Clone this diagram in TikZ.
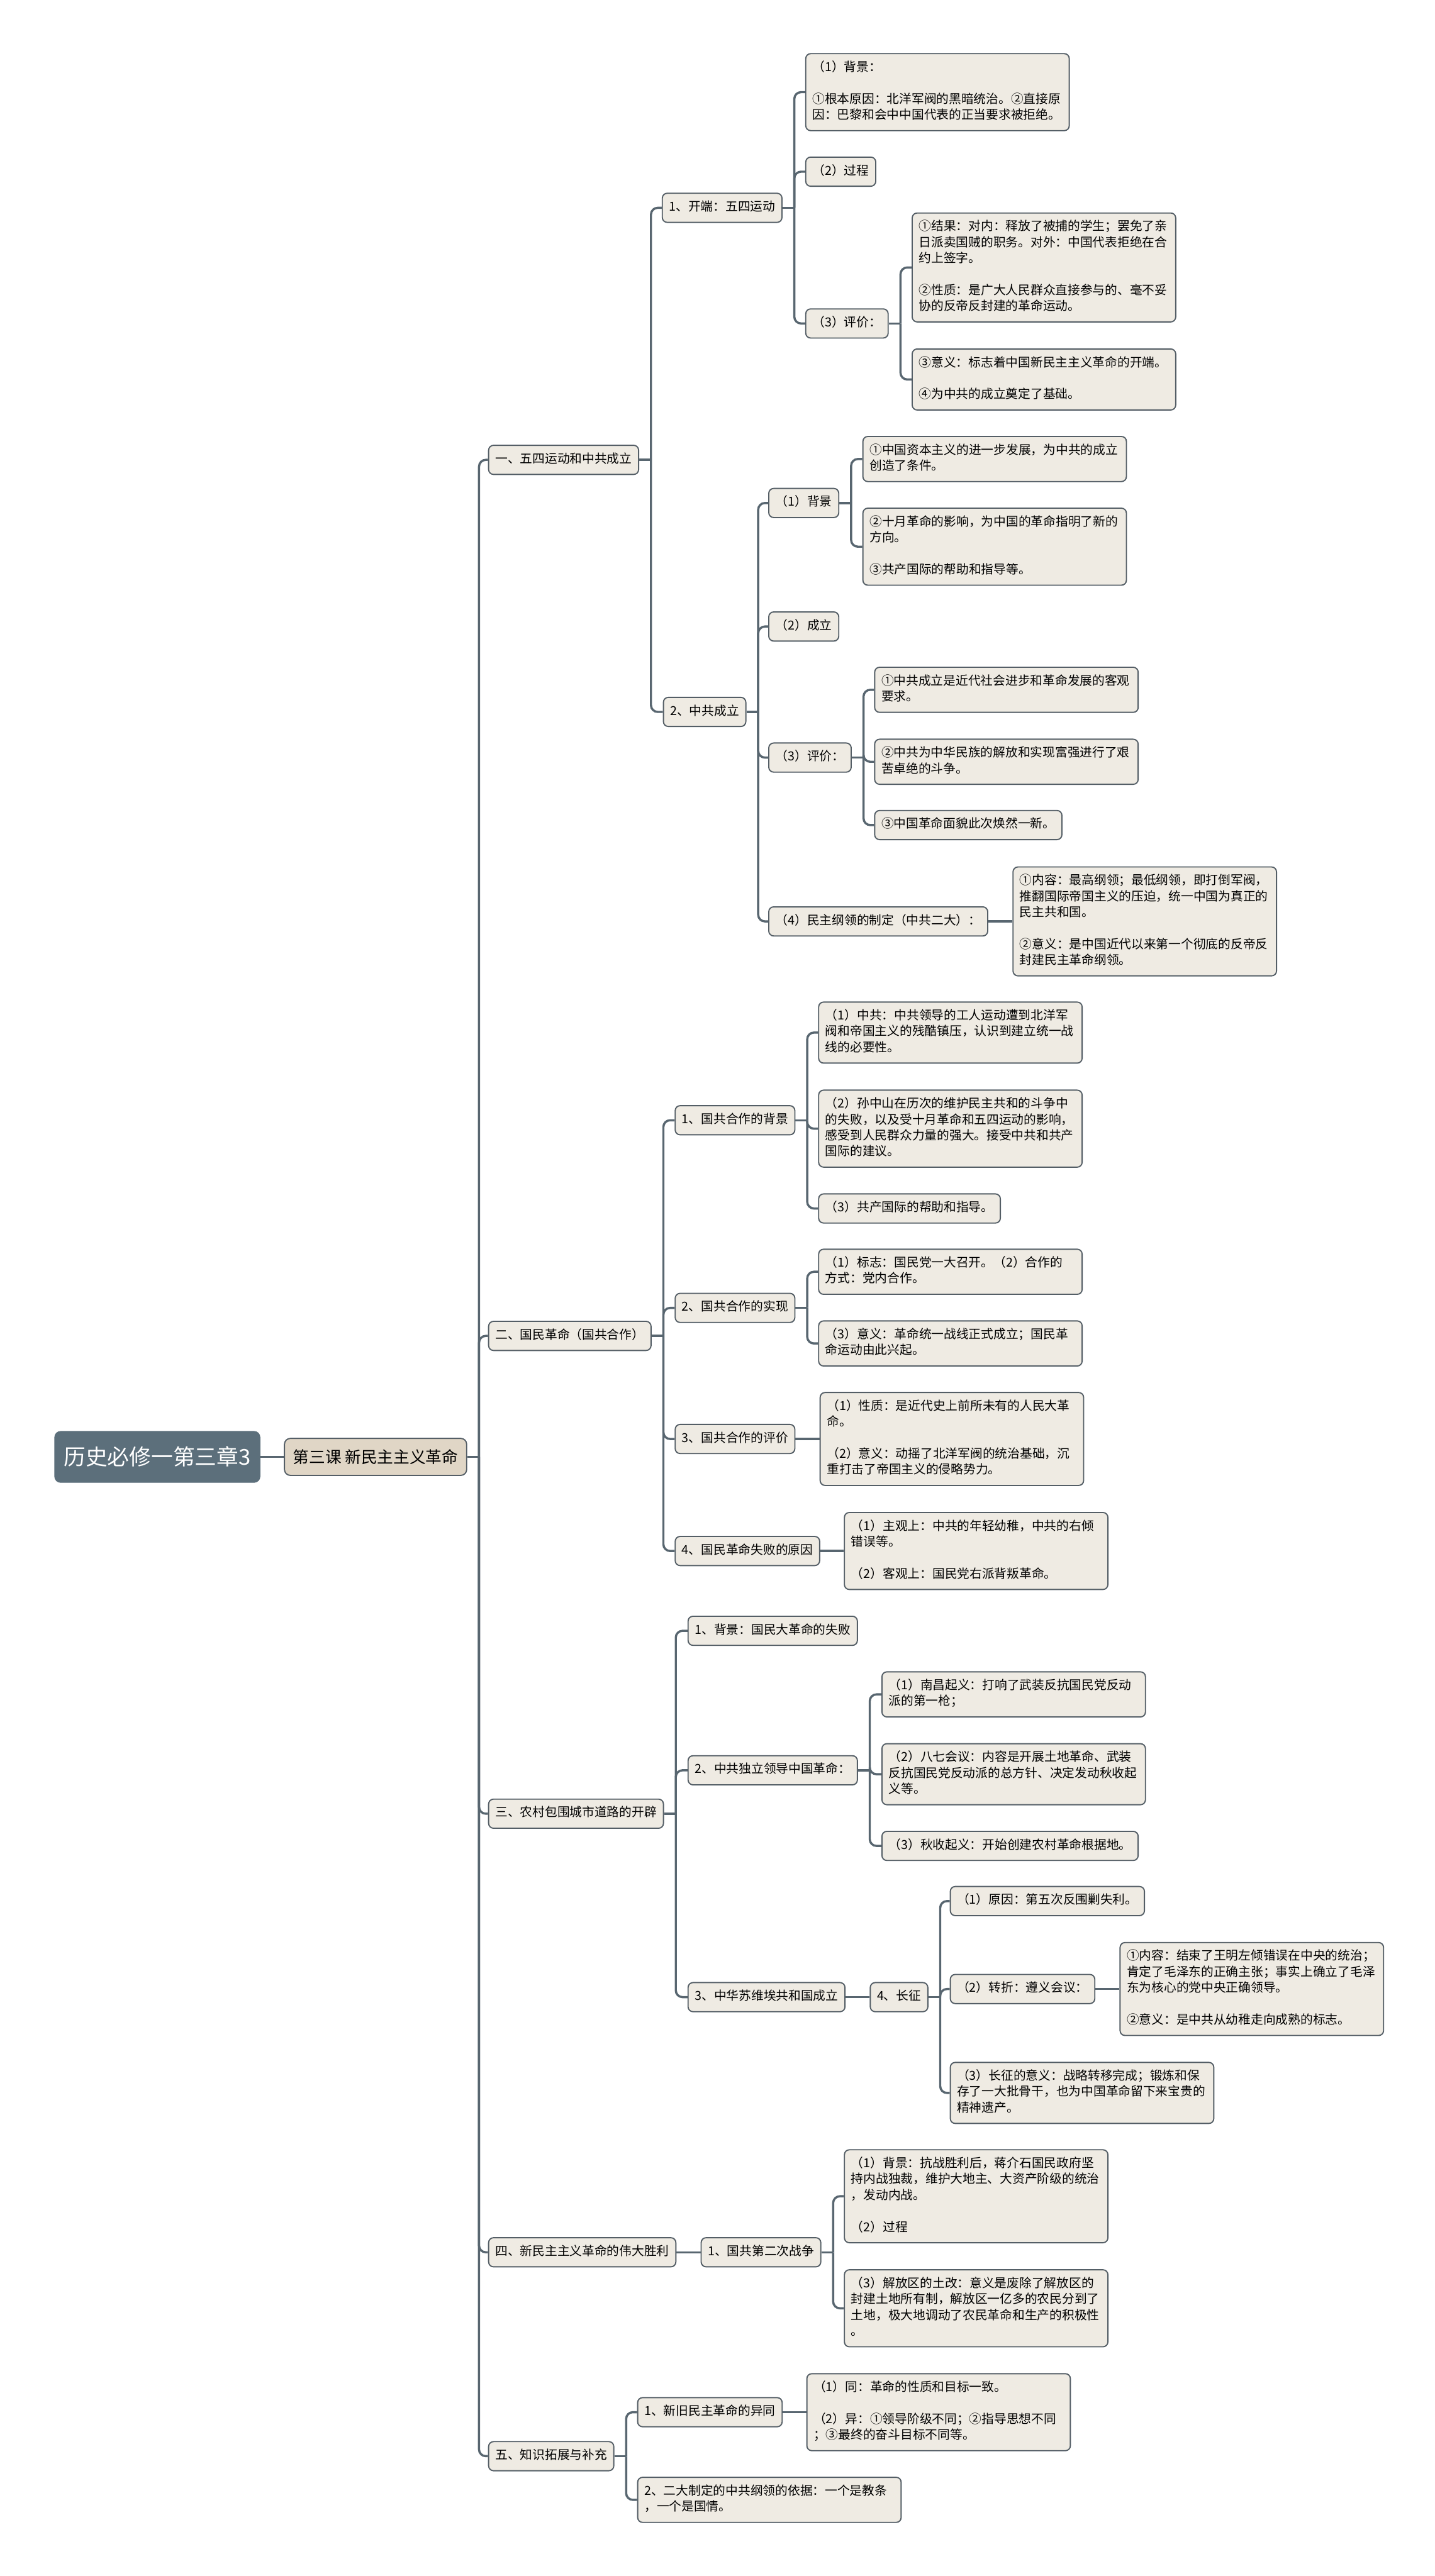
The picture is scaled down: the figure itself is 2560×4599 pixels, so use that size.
\documentclass[tikz,border=0pt]{standalone}
\usepackage{fontspec}
\setmainfont{Noto Sans CJK SC}
\usetikzlibrary{positioning}
\definecolor{LinkGray}{RGB}{88,102,112}
\definecolor{BoxLine}{RGB}{84,94,102}
\definecolor{BoxFill}{RGB}{239,235,227}
\definecolor{TopicFill}{RGB}{224,214,198}
\definecolor{RootFill}{RGB}{92,111,123}
\tikzset{
  leaf/.style={draw=BoxLine,fill=BoxFill,rounded corners=2.5pt,line width=0.6pt,
               font=\fontsize{6.3}{8.1}\selectfont,inner xsep=0.12cm,inner ysep=0.1175cm,
               execute at begin node=\strut,execute at end node=\strut,anchor=west},
  wide/.style={leaf,text width=4.46cm,align=left},
  topic/.style={draw=BoxLine,fill=TopicFill,rounded corners=3pt,line width=0.6pt,
                font=\fontsize{8.2}{10}\selectfont,minimum width=3.25cm,minimum height=0.66cm},
  rootnode/.style={draw=RootFill,fill=RootFill,rounded corners=3pt,text=white,
                   font=\fontsize{11.1}{13}\selectfont,minimum width=3.66cm,minimum height=0.91cm},
  link/.style={draw=LinkGray,line width=1.1pt,rounded corners=3.4pt},
}
\begin{document}
\begin{tikzpicture}[x=0.01cm,y=-0.01cm]
\path[use as bounding box,fill=white] (0,0) rectangle (2560,4599);

\node[rootnode,anchor=west] (root) at (97,2601) {历史必修一第三章3};
\node[topic,right=0.42cm of root] (lesson) {第三课 新民主主义革命};

\node[leaf] (s1) at (871,821) {一、五四运动和中共成立};
\node[leaf] (s2) at (871,2385) {二、国民革命（国共合作）};
\node[leaf] (s3) at (871,3238) {三、农村包围城市道路的开辟};
\node[leaf] (s4) at (871,4021) {四、新民主主义革命的伟大胜利};
\node[leaf] (s5) at (871,4385) {五、知识拓展与补充};

\node[leaf] (kd) at (1181,371) {1、开端：五四运动};
\node[wide] (kd1) at (1437,164.5) {（1）背景：\\[8.1pt]
①根本原因：北洋军阀的黑暗统治。②直接原\\
因：巴黎和会中中国代表的正当要求被拒绝。};
\node[leaf] (kd2) at (1437,306.5) {（2）过程};
\node[leaf] (kd3) at (1437,577.5) {（3）评价：};
\node[wide] (kd3a) at (1627,477.5) {①结果：对内：释放了被捕的学生；罢免了亲\\
日派卖国贼的职务。对外：中国代表拒绝在合\\
约上签字。\\[8.1pt]
②性质：是广大人民群众直接参与的、毫不妥\\
协的反帝反封建的革命运动。};
\node[wide] (kd3b) at (1627,677.5) {③意义：标志着中国新民主主义革命的开端。\\[8.1pt]
④为中共的成立奠定了基础。};

\node[leaf] (zg) at (1183,1271) {2、中共成立};
\node[leaf] (zg1) at (1371,898) {（1）背景};
\node[leaf] (zg2) at (1371,1118.5) {（2）成立};
\node[leaf] (zg3) at (1371,1352.5) {（3）评价：};
\node[leaf] (zg4) at (1371,1645) {（4）民主纲领的制定（中共二大）：};
\node[wide] (zg1a) at (1539,819.5) {①中国资本主义的进一步发展，为中共的成立\\
创造了条件。};
\node[wide] (zg1b) at (1539,976) {②十月革命的影响，为中国的革命指明了新的\\
方向。\\[8.1pt]
③共产国际的帮助和指导等。};
\node[wide] (zg3a) at (1560,1231.5) {①中共成立是近代社会进步和革命发展的客观\\
要求。};
\node[wide] (zg3b) at (1560,1360) {②中共为中华民族的解放和实现富强进行了艰\\
苦卓绝的斗争。};
\node[leaf] (zg3c) at (1560,1473) {③中国革命面貌此次焕然一新。};
\node[wide,right=0.43cm of zg4] (zg4a) {①内容：最高纲领；最低纲领，即打倒军阀，\\
推翻国际帝国主义的压迫，统一中国为真正的\\
民主共和国。\\[8.1pt]
②意义：是中国近代以来第一个彻底的反帝反\\
封建民主革命纲领。};

\node[leaf] (gb) at (1204,2000) {1、国共合作的背景};
\node[leaf] (gs) at (1204,2335) {2、国共合作的实现};
\node[leaf] (gp) at (1204,2569) {3、国共合作的评价};
\node[leaf] (gf) at (1204,2769) {4、国民革命失败的原因};
\node[wide] (gb1) at (1460,1843.5) {（1）中共：中共领导的工人运动遭到北洋军\\
阀和帝国主义的残酷镇压，认识到建立统一战\\
线的必要性。};
\node[wide] (gb2) at (1460,2015) {（2）孙中山在历次的维护民主共和的斗争中\\
的失败，以及受十月革命和五四运动的影响，\\
感受到人民群众力量的强大。接受中共和共产\\
国际的建议。};
\node[leaf] (gb3) at (1460,2157.5) {（3）共产国际的帮助和指导。};
\node[wide] (gs1) at (1460,2270.5) {（1）标志：国民党一大召开。（2）合作的\\
方式：党内合作。};
\node[wide] (gs2) at (1460,2398.5) {（3）意义：革命统一战线正式成立；国民革\\
命运动由此兴起。};
\node[wide,right=0.43cm of gp] (gp1) {（1）性质：是近代史上前所未有的人民大革\\
命。\\[8.1pt]
（2）意义：动摇了北洋军阀的统治基础，沉\\
重打击了帝国主义的侵略势力。};
\node[wide,right=0.42cm of gf] (gf1) {（1）主观上：中共的年轻幼稚，中共的右倾\\
错误等。\\[8.1pt]
（2）客观上：国民党右派背叛革命。};

\node[leaf] (nb) at (1227,2911.5) {1、背景：国民大革命的失败};
\node[leaf] (nd) at (1227,3160.5) {2、中共独立领导中国革命：};
\node[leaf] (ns) at (1227,3565.5) {3、中华苏维埃共和国成立};
\node[wide] (nd1) at (1573,3025) {（1）南昌起义：打响了武装反抗国民党反动\\
派的第一枪；};
\node[wide] (nd2) at (1573,3167.5) {（2）八七会议：内容是开展土地革命、武装\\
反抗国民党反动派的总方针、决定发动秋收起\\
义等。};
\node[leaf] (nd3) at (1573,3295.5) {（3）秋收起义：开始创建农村革命根据地。};
\node[leaf,right=0.43cm of ns] (cz) {4、长征};
\node[leaf] (cz1) at (1695,3394) {（1）原因：第五次反围剿失利。};
\node[leaf] (cz2) at (1695,3551) {（2）转折：遵义会议：};
\node[wide] (cz3) at (1695,3736.5) {（3）长征的意义：战略转移完成；锻炼和保\\
存了一大批骨干，也为中国革命留下来宝贵的\\
精神遗产。};
\node[wide,right=0.43cm of cz2] (cz2a) {①内容：结束了王明左倾错误在中央的统治；\\
肯定了毛泽东的正确主张；事实上确立了毛泽\\
东为核心的党中央正确领导。\\[8.1pt]
②意义：是中共从幼稚走向成熟的标志。};

\node[leaf,right=0.43cm of s4] (zs) {1、国共第二次战争};
\node[wide] (zs1) at (1506,3921) {（1）背景：抗战胜利后，蒋介石国民政府坚\\
持内战独裁，维护大地主、大资产阶级的统治\\
，发动内战。\\[8.1pt]
（2）过程};
\node[wide] (zs2) at (1506,4121) {（3）解放区的土改：意义是废除了解放区的\\
封建土地所有制，解放区一亿多的农民分到了\\
土地，极大地调动了农民革命和生产的积极性\\
。};

\node[leaf] (xj) at (1137,4306.5) {1、新旧民主革命的异同};
\node[wide] (ed) at (1137,4463) {2、二大制定的中共纲领的依据：一个是教条\\
，一个是国情。};
\node[wide,right=0.42cm of xj] (xj1) {（1）同：革命的性质和目标一致。\\[8.1pt]
（2）异：①领导阶级不同；②指导思想不同\\
；③最终的奋斗目标不同等。};

\draw[link] (root) -- (lesson);
\draw[link] (lesson.east) -- ++(21,0) coordinate (lj);
\draw[link] (lj) |- (s1.west);
\draw[link] (lj) |- (s2.west);
\draw[link] (lj) |- (s3.west);
\draw[link] (lj) |- (s4.west);
\draw[link] (lj) |- (s5.west);

\draw[link] (s1.east) -- ++(21,0) coordinate (s1j);
\draw[link] (s1j) |- (kd.west);
\draw[link] (s1j) |- (zg.west);
\draw[link] (kd.east) -- ++(21,0) coordinate (kdj);
\draw[link] (kdj) |- (kd1.west);
\draw[link] (kdj) |- (kd2.west);
\draw[link] (kdj) |- (kd3.west);
\draw[link] (kd3.east) -- ++(21,0) coordinate (kd3j);
\draw[link] (kd3j) |- (kd3a.west);
\draw[link] (kd3j) |- (kd3b.west);
\draw[link] (zg.east) -- ++(21,0) coordinate (zgj);
\draw[link] (zgj) |- (zg1.west);
\draw[link] (zgj) |- (zg2.west);
\draw[link] (zgj) |- (zg3.west);
\draw[link] (zgj) |- (zg4.west);
\draw[link] (zg1.east) -- ++(21,0) coordinate (zg1j);
\draw[link] (zg1j) |- (zg1a.west);
\draw[link] (zg1j) |- (zg1b.west);
\draw[link] (zg3.east) -- ++(21,0) coordinate (zg3j);
\draw[link] (zg3j) |- (zg3a.west);
\draw[link] (zg3j) |- (zg3b.west);
\draw[link] (zg3j) |- (zg3c.west);
\draw[link] (zg4) -- (zg4a);

\draw[link] (s2.east) -- ++(21,0) coordinate (s2j);
\draw[link] (s2j) |- (gb.west);
\draw[link] (s2j) |- (gs.west);
\draw[link] (s2j) |- (gp.west);
\draw[link] (s2j) |- (gf.west);
\draw[link] (gb.east) -- ++(21,0) coordinate (gbj);
\draw[link] (gbj) |- (gb1.west);
\draw[link] (gbj) |- (gb2.west);
\draw[link] (gbj) |- (gb3.west);
\draw[link] (gs.east) -- ++(21,0) coordinate (gsj);
\draw[link] (gsj) |- (gs1.west);
\draw[link] (gsj) |- (gs2.west);
\draw[link] (gp) -- (gp1);
\draw[link] (gf) -- (gf1);

\draw[link] (s3.east) -- ++(21,0) coordinate (s3j);
\draw[link] (s3j) |- (nb.west);
\draw[link] (s3j) |- (nd.west);
\draw[link] (s3j) |- (ns.west);
\draw[link] (nd.east) -- ++(21,0) coordinate (ndj);
\draw[link] (ndj) |- (nd1.west);
\draw[link] (ndj) |- (nd2.west);
\draw[link] (ndj) |- (nd3.west);
\draw[link] (ns) -- (cz);
\draw[link] (cz.east) -- ++(21,0) coordinate (czj);
\draw[link] (czj) |- (cz1.west);
\draw[link] (czj) |- (cz2.west);
\draw[link] (czj) |- (cz3.west);
\draw[link] (cz2) -- (cz2a);

\draw[link] (s4) -- (zs);
\draw[link] (zs.east) -- ++(21,0) coordinate (zsj);
\draw[link] (zsj) |- (zs1.west);
\draw[link] (zsj) |- (zs2.west);

\draw[link] (s5.east) -- ++(21,0) coordinate (s5j);
\draw[link] (s5j) |- (xj.west);
\draw[link] (s5j) |- (ed.west);
\draw[link] (xj) -- (xj1);
\end{tikzpicture}
\end{document}
